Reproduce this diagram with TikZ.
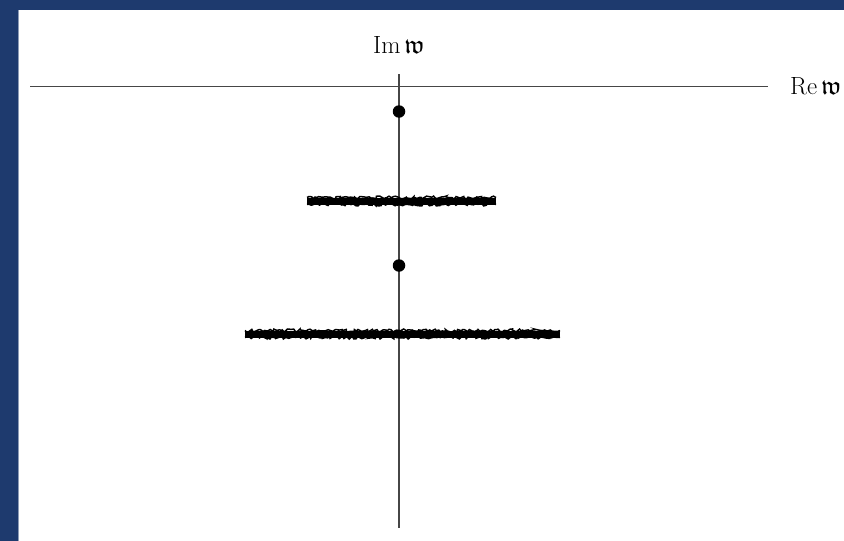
\documentclass[tikz,border=0pt]{standalone}
\usepackage{amsmath,amssymb}
\usetikzlibrary{decorations.pathmorphing}
\definecolor{frameblue}{RGB}{30,58,110}
\definecolor{axisgray}{RGB}{70,70,70}
\begin{document}
\begin{tikzpicture}[x=1pt,y=-1pt,
  axis/.style={draw=axisgray,line width=1.1pt},
  pole/.style={circle,fill=black,inner sep=0pt,minimum size=12.5pt},
  lbl/.style={inner sep=0pt,font=\fontsize{26}{31}\selectfont},
  cutcore/.style={black,line width=7pt},
  cutline/.style={black,line width=1.5pt,decorate,decoration={random steps,segment length=2pt,amplitude=1.5pt}}]
\useasboundingbox (0,0) rectangle (844,541);
\fill[white] (0,0) rectangle (844,541);
\fill[frameblue] (0,0) rectangle (844,10);
\fill[frameblue] (0,0) rectangle (18,541);
\draw[color=frameblue!50,line width=0.8pt] (18.4,10) -- (18.4,541);
% axes
\coordinate (xl) at (30,86.5);
\coordinate (xr) at (768,86.5);
\coordinate (yt) at (399,74);
\coordinate (yb) at (399,528);
\draw[axis] (xl) -- (xr);
\draw[axis] (yt) -- (yb);
\node[lbl,anchor=base] (im) at (399,53) {$\operatorname{Im}\mathfrak{w}$};
\node[lbl,anchor=base west] (re) at (790,94) {$\operatorname{Re}\mathfrak{w}$};
% poles
\node[pole] (p1) at (399,111.5) {};
\node[pole] (p2) at (399,265.5) {};
% cuts
\coordinate (c1l) at (307,201);
\coordinate (c1r) at (496,201);
\coordinate (c2l) at (245,334);
\coordinate (c2r) at (560,334);
\draw[cutcore] (c1l) -- (c1r);
\draw[cutcore] (c2l) -- (c2r);
\pgfmathsetseed{7}
\foreach \dy in {-3.5,3.5} {
  \draw[cutline] ([yshift=\dy]c1l) -- ([yshift=\dy]c1r);
  \draw[cutline] ([yshift=\dy]c2l) -- ([yshift=\dy]c2r);
}
\end{tikzpicture}
\end{document}
